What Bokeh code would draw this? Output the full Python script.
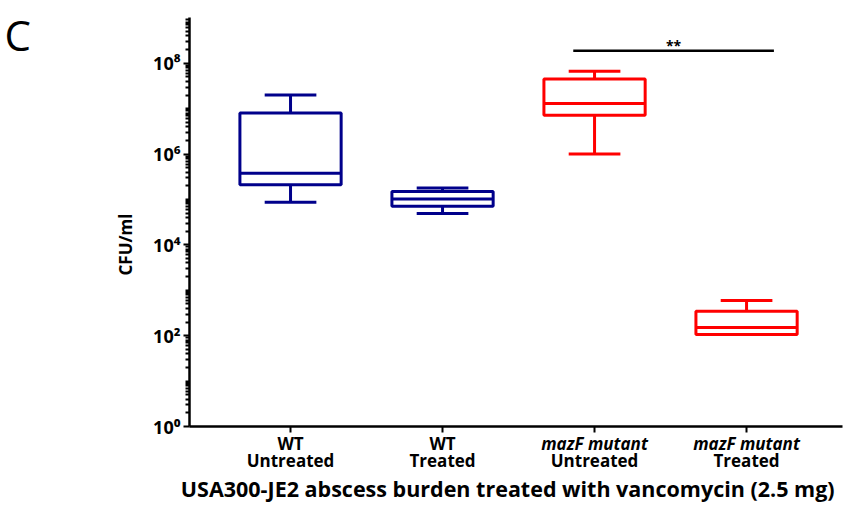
from math import pi
from bokeh.plotting import figure
from bokeh.models import Range1d, FixedTicker, Label, LogAxis, LinearAxis, LogScale
from bokeh.embed import file_html
from bokeh.resources import INLINE

# ---- data ----
groups = ["WT Untreated", "WT Treated", "mazF mutant Untreated", "mazF mutant Treated"]
line1 = ["WT", "WT", "mazF mutant", "mazF mutant"]
line1_italic = [False, False, True, True]
line2 = ["Untreated", "Treated", "Untreated", "Treated"]
colors = ["#00008B", "#00008B", "#FF0000", "#FF0000"]
whisker_low = [8.7e4, 4.9e4, 1.0e6, 106]
q1 = [2.1e5, 7.1e4, 7.2e6, 106]
median = [3.8e5, 1.03e5, 1.3e7, 152]
q3 = [8.0e6, 1.5e5, 4.5e7, 347]
whisker_high = [2.0e7, 1.8e5, 6.7e7, 597]
y_ticks = [1, 1e2, 1e4, 1e6, 1e8]
y_tick_labels = ["10⁰", "10²", "10⁴", "10⁶", "10⁸"]
y_axis_bounds = (1, 1e9)
sig_from, sig_to, sig_y, sig_text = 2.86, 4.18, 1.9e8, "**"
x_title = "USA300-JE2  abscess burden treated with vancomycin (2.5 mg)"
y_title = "CFU/ml"
panel = "C"

# ---- layout / style ----
FONT = "Open Sans"
BOX_HALF = 0.333
CAP_HALF = 0.17
LW = 3
X_AXIS_BOUNDS = (0.3355, 4.632)
W, H = 852, 505

xs = [i + 1 for i in range(len(groups))]

p = figure(width=W, height=H, x_axis_location=None, y_axis_location=None,
           x_range=Range1d(-0.908, 4.697), y_range=Range1d(10 ** -1.74, 10 ** 9.383),
           output_backend="svg", toolbar_location=None, min_border=0)
p.y_scale = LogScale()
p.grid.visible = False
p.outline_line_color = None
p.background_fill_color = "white"
p.border_fill_color = "white"

# y axis (log), drawn at the left end of the x axis
minor = [m * 10 ** k for k in range(9) for m in range(1, 10)
         if m * 10 ** k not in y_ticks]
yaxis = LogAxis(fixed_location=X_AXIS_BOUNDS[0], bounds=y_axis_bounds,
                ticker=FixedTicker(ticks=y_ticks, minor_ticks=minor))
yaxis.major_label_overrides = {t: l for t, l in zip(y_ticks, y_tick_labels)}
yaxis.major_label_text_font_size = "18px"
yaxis.major_label_standoff = 3
yaxis.major_tick_out = 6
yaxis.major_tick_in = 0
yaxis.minor_tick_out = 4
yaxis.minor_tick_in = 0
yaxis.minor_tick_line_width = 2
yaxis.minor_tick_line_color = "black"

# x axis, drawn at y = 10^0
xaxis = LinearAxis(fixed_location=y_axis_bounds[0], bounds=X_AXIS_BOUNDS,
                   ticker=FixedTicker(ticks=xs))
xaxis.major_label_overrides = {x: l for x, l in zip(xs, line2)}
xaxis.major_label_text_font_size = "17px"
xaxis.major_label_standoff = 16
xaxis.major_tick_out = 6
xaxis.major_tick_in = 0
xaxis.minor_tick_line_color = None

for ax in (xaxis, yaxis):
    ax.axis_line_width = 2.5
    ax.axis_line_color = "black"
    ax.major_tick_line_width = 2
    ax.major_tick_line_color = "black"
    ax.major_label_text_font = FONT
    ax.major_label_text_font_style = "bold"
    ax.major_label_text_color = "black"
p.add_layout(yaxis, "left")
p.add_layout(xaxis, "below")

# boxes
p.quad(left=[x - BOX_HALF for x in xs], right=[x + BOX_HALF for x in xs],
       bottom=q1, top=q3, fill_color=None, line_color=colors, line_width=LW)
p.segment(x0=[x - BOX_HALF for x in xs], x1=[x + BOX_HALF for x in xs],
          y0=median, y1=median, line_color=colors, line_width=LW)
# whiskers
p.segment(x0=xs, x1=xs, y0=q3, y1=whisker_high, line_color=colors, line_width=LW)
p.segment(x0=xs, x1=xs, y0=q1, y1=whisker_low, line_color=colors, line_width=LW)
p.segment(x0=[x - CAP_HALF for x in xs], x1=[x + CAP_HALF for x in xs],
          y0=whisker_high, y1=whisker_high, line_color=colors, line_width=LW)
p.segment(x0=[x - CAP_HALF for x in xs], x1=[x + CAP_HALF for x in xs],
          y0=whisker_low, y1=whisker_low, line_color=colors, line_width=LW)

# significance bar
p.segment(x0=[sig_from], x1=[sig_to], y0=[sig_y], y1=[sig_y],
          line_color="black", line_width=2.5)
p.add_layout(Label(x=(sig_from + sig_to) / 2, y=sig_y, text=sig_text,
                   text_align="center", text_baseline="bottom", y_offset=-4,
                   text_font=FONT, text_font_style="bold", text_font_size="14px",
                   text_color="black"))

# first line of category labels (mixed styles)
for i, x in enumerate(xs):
    p.add_layout(Label(x=x, y=62, x_units="data", y_units="screen", text=line1[i],
                       text_align="center", text_baseline="alphabetic",
                       text_font=FONT, text_font_size="17px", text_color="black",
                       text_font_style="bold italic" if line1_italic[i] else "bold"))

p.add_layout(Label(x=510, y=17, x_units="screen", y_units="screen", text=x_title,
                   text_align="center", text_baseline="alphabetic",
                   text_font=FONT, text_font_size="21.5px", text_font_style="bold",
                   text_color="black"))
p.add_layout(Label(x=125, y=261, x_units="screen", y_units="screen", text=y_title,
                   angle=pi / 2, text_align="center", text_baseline="middle",
                   text_font=FONT, text_font_size="17px", text_font_style="bold",
                   text_color="black"))
p.add_layout(Label(x=4, y=471, x_units="screen", y_units="screen", text=panel,
                   text_align="left", text_baseline="alphabetic",
                   text_font=FONT, text_font_size="42px", text_color="black"))

open("out.html", "w").write(file_html(p, INLINE))
